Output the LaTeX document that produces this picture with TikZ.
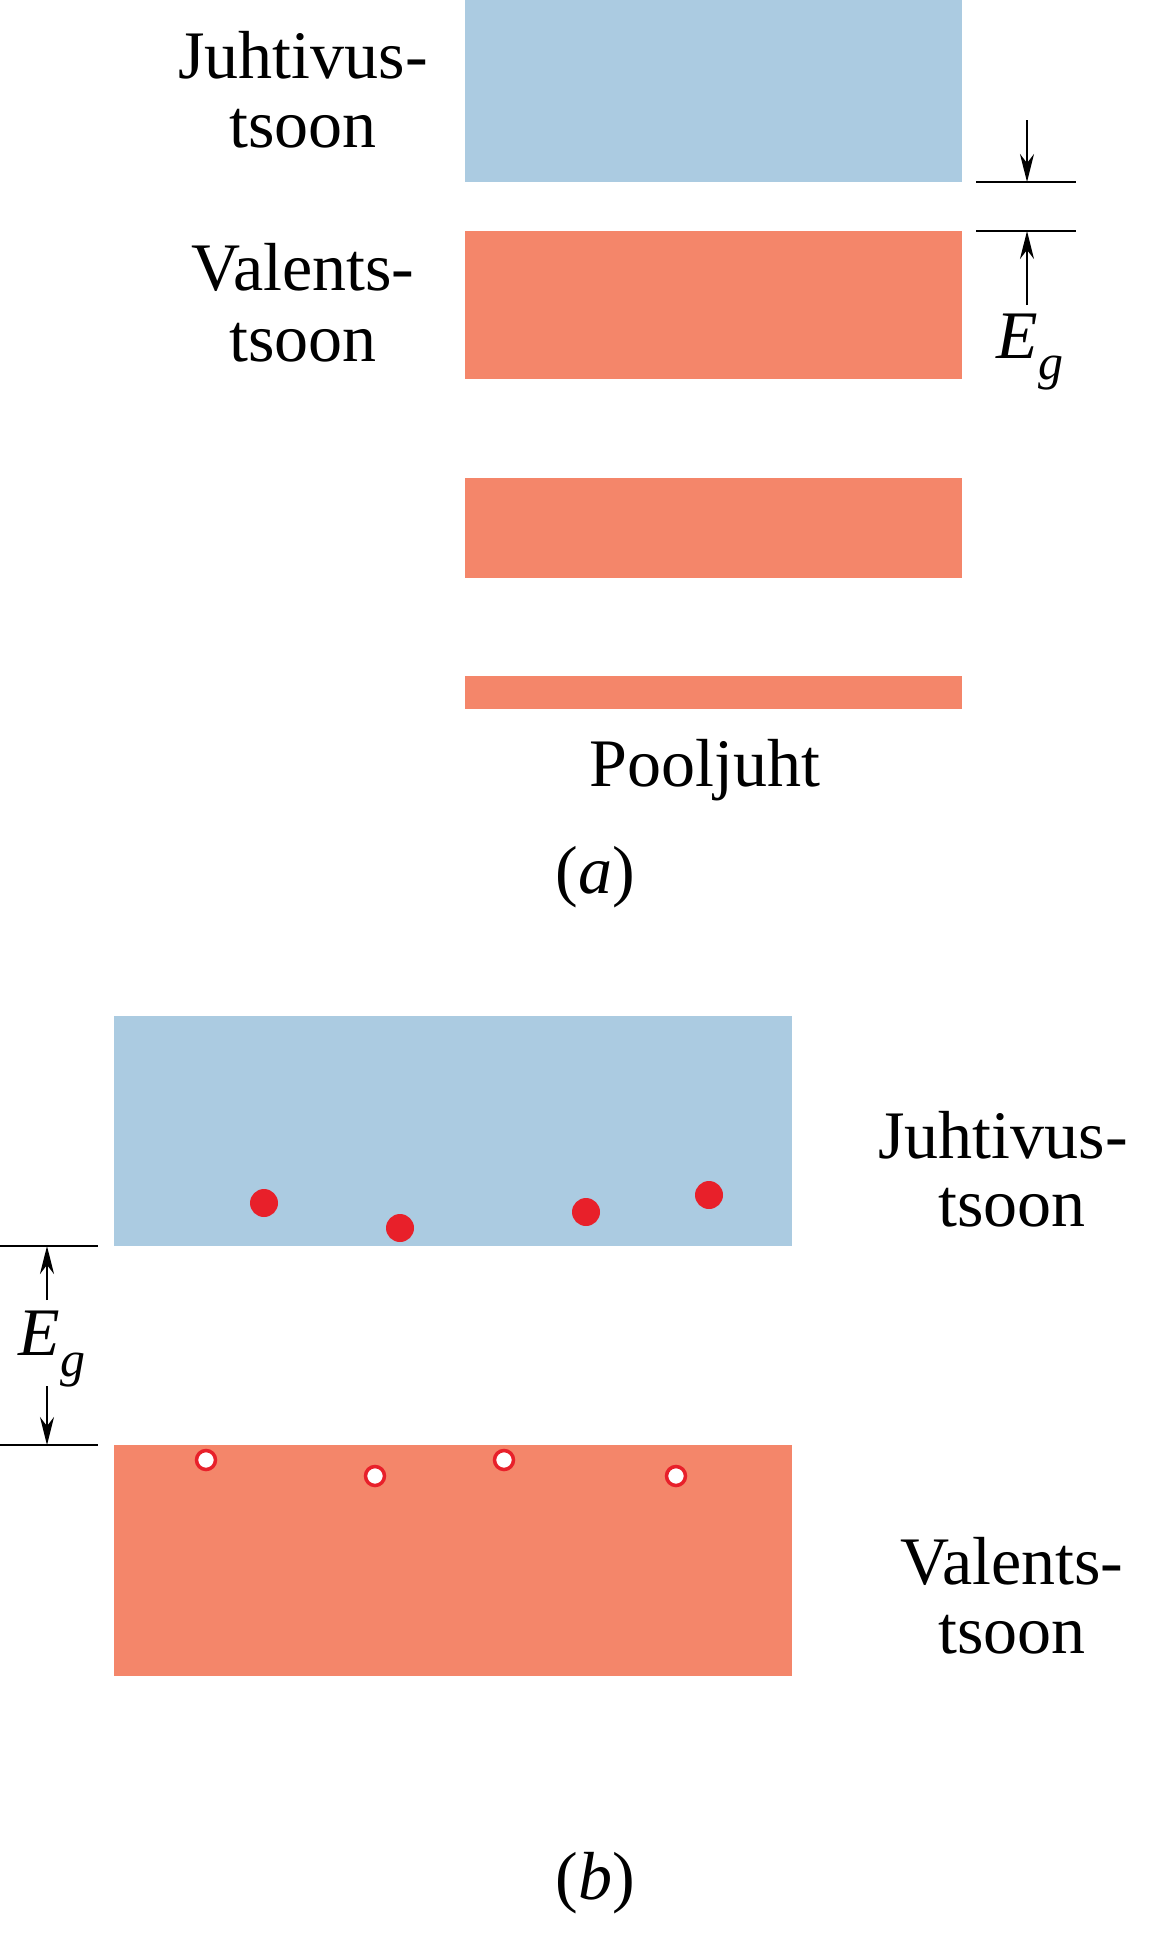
\documentclass[tikz,border=0pt]{standalone}
\usepackage{fontspec}
\setmainfont{Liberation Serif}
\usetikzlibrary{arrows.meta}
\definecolor{cb}{HTML}{ABCBE1}
\definecolor{vb}{HTML}{F4866A}
\definecolor{dot}{HTML}{E8202A}
\newcommand{\egl}{{\itshape E}\raisebox{-0.32em}{\fontsize{50}{50}\selectfont\itshape g}}
\begin{document}
\begin{tikzpicture}[x=1pt,y=-1pt,
  lbl/.style={font=\fontsize{68}{68}\selectfont,inner sep=0},
  ar/.style={line width=2.5pt,-{Stealth[length=28pt,width=14pt]}},
  ln/.style={line width=2.5pt},
  ed/.style={circle,fill=dot,minimum size=28pt,inner sep=0},
  hd/.style={circle,fill=white,draw=dot,line width=3.5pt,minimum size=19pt,inner sep=0}]
\useasboundingbox (0,0) rectangle (1153,1941);
% (a)
\fill[cb] (465,0) rectangle (962,182);
\fill[vb] (465,231) rectangle (962,379);
\fill[vb] (465,478) rectangle (962,578);
\fill[vb] (465,676) rectangle (962,709);
\node[lbl] (j1) at (303,55) {Juhtivus-};
\node[lbl] (j2) at (303,129) {tsoon};
\node[lbl] (v1) at (303,267) {Valents-};
\node[lbl] (v2) at (303,343) {tsoon};
\coordinate (l1a) at (976,182); \coordinate (l1b) at (1076,182);
\coordinate (l2a) at (976,231); \coordinate (l2b) at (1076,231);
\draw[ln] (l1a) -- (l1b); \draw[ln] (l2a) -- (l2b);
\coordinate (t1) at (1027,120); \coordinate (t2) at (1027,182);
\coordinate (b1) at (1027,305); \coordinate (b2) at (1027,231);
\draw[ar] (t1) -- (t2); \draw[ar] (b1) -- (b2);
\node[lbl] (eg1) at (1030,352) {\egl};
\node[lbl] (pj) at (705,770) {Pooljuht};
\node[lbl] (pa) at (595,877) {(\textit{a})};
% (b)
\fill[cb] (114,1016) rectangle (792,1246);
\fill[vb] (114,1445) rectangle (792,1676);
\coordinate (m1a) at (0,1246); \coordinate (m1b) at (98,1246);
\coordinate (m2a) at (0,1445); \coordinate (m2b) at (98,1445);
\draw[ln] (m1a) -- (m1b); \draw[ln] (m2a) -- (m2b);
\coordinate (u1) at (47,1300); \coordinate (u2) at (47,1246);
\coordinate (d1) at (47,1386); \coordinate (d2) at (47,1445);
\draw[ar] (u1) -- (u2); \draw[ar] (d1) -- (d2);
\node[lbl] (eg2) at (52,1349) {\egl};
\node[ed] (e1) at (264,1203) {}; \node[ed] (e2) at (400,1228) {};
\node[ed] (e3) at (586,1212) {}; \node[ed] (e4) at (709,1195) {};
\node[hd] (h1) at (206,1460) {}; \node[hd] (h2) at (375,1476) {};
\node[hd] (h3) at (504,1460) {}; \node[hd] (h4) at (676,1476) {};
\node[lbl] (bj1) at (1003,1135) {Juhtivus-};
\node[lbl] (bj2) at (1012,1208) {tsoon};
\node[lbl] (bv1) at (1012,1561) {Valents-};
\node[lbl] (bv2) at (1012,1635) {tsoon};
\node[lbl] (pb) at (595,1883) {(\textit{b})};
\end{tikzpicture}
\end{document}
